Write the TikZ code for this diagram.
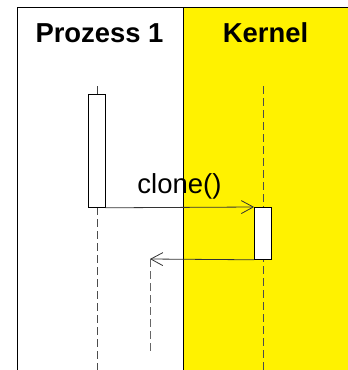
\documentclass[tikz,border=0pt]{standalone}
\usepackage{fontspec}
\setmainfont{Liberation Sans}
\usetikzlibrary{arrows.meta}
\begin{document}
\begin{tikzpicture}[x=1pt,y=-1pt,
  lifeline/.style={draw=black!70, line width=0.8pt, dash pattern=on 8pt off 4pt},
  actbox/.style={draw=black, fill=white, line width=0.8pt, minimum width=17pt, inner sep=0pt},
  msg/.style={draw=black!80, line width=0.8pt, -{Straight Barb[length=12pt,width=13pt,line width=0.8pt]}},
  header/.style={font=\fontsize{27.4}{30}\selectfont\bfseries, inner sep=0pt, anchor=base},
  frameline/.style={draw=black, line width=1pt}]
\useasboundingbox (0,0) rectangle (348,370);
\fill[white] (0,0) rectangle (348,370);
\fill[yellow] (183,7) rectangle (348,370);
\draw[frameline] (17,370) -- (17,7) -- (348,7);
\draw[frameline] (183,7) -- (183,370);
\node[header] (h1) at (99.5,42) {Prozess 1};
\node[header] (h2) at (265.5,42) {Kernel};
% lifelines
\coordinate (p1top) at (97,86);
\coordinate (p1bot) at (97,370);
\coordinate (ktop) at (263,86);
\coordinate (kbot) at (263,370);
\draw[lifeline] (ktop) -- (kbot);
\draw[draw=black!75, line width=0.8pt] (p1top) -- (97,94);
\draw[lifeline] (97,207) -- (p1bot);
% activation boxes
\node[actbox, minimum height=113pt, anchor=north] (a1) at (96.5,94) {};
\node[actbox, minimum height=52pt, anchor=north] (a2) at (263,207) {};
% messages
\draw[msg] (a1.south east) -- (a2.north west);
\node[font=\fontsize{27.5}{30}\selectfont, inner sep=0pt, anchor=base] (lbl) at (179.5,193) {clone()};
\coordinate (ret) at (150,259);
\draw[msg] (a2.south west) -- (ret);
\coordinate (retbot) at (150,354);
\draw[lifeline, draw=black!60] (ret) -- (retbot);
\end{tikzpicture}
\end{document}
